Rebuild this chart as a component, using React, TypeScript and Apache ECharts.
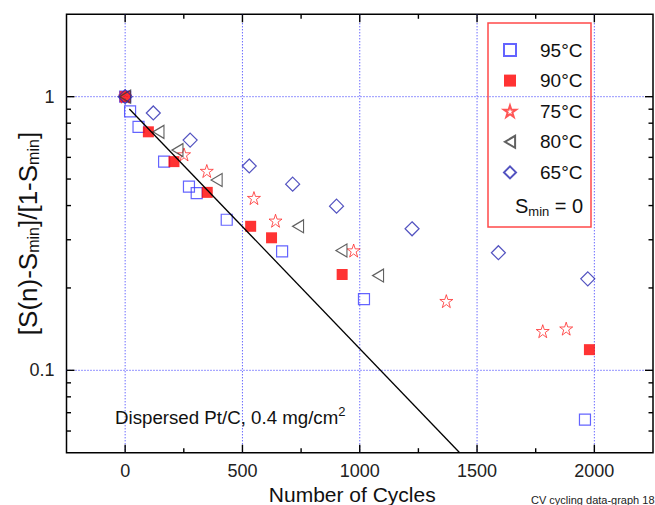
import React, { useEffect, useRef } from 'react';
import * as echarts from 'echarts';

const FONT = '"Liberation Sans", Arial, Helvetica, sans-serif';

// ---- data ----
const seriesNames = ['95°C', '90°C', '75°C', '80°C', '65°C'];

const cycles95 = [0, 21, 57, 166, 272, 305, 433, 669, 1018, 1960];
const s95 = [1.0, 0.884, 0.776, 0.579, 0.469, 0.444, 0.355, 0.272, 0.182, 0.066];

const cycles90 = [0, 99, 208, 350, 535, 624, 925, 1979];
const s90 = [1.0, 0.744, 0.579, 0.447, 0.336, 0.305, 0.224, 0.119];

const cycles75 = [0, 251, 348, 549, 641, 974, 1369, 1780, 1880];
const s75 = [1.0, 0.615, 0.535, 0.426, 0.352, 0.274, 0.179, 0.139, 0.142];

const cycles80 = [0, 142, 223, 390, 737, 922, 1078];
const s80 = [1.0, 0.744, 0.638, 0.496, 0.336, 0.274, 0.222];

const cycles65 = [0, 120, 277, 529, 714, 901, 1223, 1591, 1972];
const s65 = [1.0, 0.872, 0.694, 0.558, 0.479, 0.398, 0.329, 0.269, 0.216];

const fitCycles = [18, 1426];
const fitValues = [0.902, 0.05];

const xMajorTicks = [0, 500, 1000, 1500, 2000];
const xTickLabels = ['0', '500', '1000', '1500', '2000'];
const xMinorTicks = [250, 750, 1250, 1750];
const yMajorTicks = [0.1, 1];
const yTickLabels = ['0.1', '1'];
const yMinorTicks = [0.06, 0.07, 0.08, 0.09, 0.2, 0.3, 0.4, 0.5, 0.6, 0.7, 0.8, 0.9];

const X_MIN = -250;
const X_MAX = 2250;
const Y_MIN = 0.05;
const Y_MAX = 2;

const zip = (a: number[], b: number[]) => a.map((v, i) => [v, b[i]]);

const STAR = 'path://M50,0 L61.8,35.4 L100,35.4 L69.1,57.3 L80.9,95.1 L50,72.4 L19.1,95.1 L30.9,57.3 L0,35.4 L38.2,35.4 Z';
const LEFT_TRI = 'path://M0,50 L85,0 L85,100 Z';

const GRID_COLOR = '#2a2aff';
const FRAME = '#000';

export default function App() {
  const ref = useRef<HTMLDivElement>(null);
  useEffect(() => {
    if (!ref.current) return;
    const chart = echarts.init(ref.current, undefined, { renderer: 'svg' });

    const xDecor = xMajorTicks.map((v) => [v, 1, 1]).concat(xMinorTicks.map((v) => [v, 0, 1]));
    const yDecor = yMajorTicks.map((v) => [0, v, 1]).concat(yMinorTicks.map((v) => [0, v, 0]));

    const option: any = {
      animation: false,
      textStyle: { fontFamily: FONT },
      grid: {
        left: 66.5,
        right: 2,
        top: 14.3,
        bottom: 52.3,
        containLabel: false,
        outerBoundsMode: 'none',
        show: true,
        borderColor: FRAME,
        borderWidth: 1.5,
        backgroundColor: 'transparent',
      },
      xAxis: {
        type: 'value',
        min: X_MIN,
        max: X_MAX,
        interval: 250,
        axisLine: { show: false },
        axisTick: { show: false },
        splitLine: { show: false },
        axisLabel: {
          margin: 9,
          fontSize: 18,
          color: '#222',
          fontFamily: FONT,
          formatter: (v: number) => {
            const i = xMajorTicks.indexOf(v);
            return i >= 0 ? xTickLabels[i] : '';
          },
        },
        name: 'Number of Cycles',
        nameLocation: 'middle',
        nameGap: 31,
        nameMoveOverlap: false,
        nameTextStyle: { fontSize: 21, color: '#111', fontFamily: FONT, padding: [0, 15, 0, 0] },
      },
      yAxis: {
        type: 'log',
        logBase: 10,
        min: Y_MIN,
        max: Y_MAX,
        axisLine: { show: false },
        axisTick: { show: false },
        splitLine: { show: false },
        axisLabel: {
          margin: 12,
          fontSize: 18,
          color: '#222',
          fontFamily: FONT,
          formatter: (v: number) => {
            const i = yMajorTicks.findIndex((t) => Math.abs(t - v) < 1e-9);
            return i >= 0 ? yTickLabels[i] : '';
          },
        },
        name: '{m|[S(n)-S}{s|min}{m|]/[1-S}{s|min}{m|]}',
        nameLocation: 'middle',
        nameGap: 25,
        nameRotate: 90,
        nameMoveOverlap: false,
        nameTextStyle: {
          fontFamily: FONT,
          color: '#111',
          rich: {
            m: { fontSize: 26, lineHeight: 27, verticalAlign: 'top', fontFamily: FONT, color: '#111' },
            s: { fontSize: 16, lineHeight: 16, padding: [15, 0, 0, 0], verticalAlign: 'bottom', fontFamily: FONT, color: '#111' },
          },
        },
      },
      legend: {
        data: seriesNames,
        orient: 'vertical',
        left: 503,
        top: 40,
        padding: 0,
        itemWidth: 12,
        itemHeight: 12,
        itemGap: 10.6,
        selectedMode: false,
        textStyle: { fontSize: 19, fontFamily: FONT, color: '#111', lineHeight: 20, padding: [0, 0, 0, 19] },
      },
      graphic: [
        {
          type: 'rect',
          shape: { x: 488, y: 23, width: 103, height: 204 },
          style: { fill: 'none', stroke: '#ff4a4a', lineWidth: 1.5 },
          z: 10,
        },
        {
          type: 'text',
          x: 515,
          y: 196,
          style: {
            text: '{m|S}{s|min}{m| = 0}',
            rich: {
              m: { fontSize: 20, lineHeight: 22, verticalAlign: 'top', fontFamily: FONT, fill: '#111' },
              s: { fontSize: 13, lineHeight: 13, padding: [12, 0, 0, 0], verticalAlign: 'bottom', fontFamily: FONT, fill: '#111' },
            },
          },
          z: 10,
        },
        {
          type: 'text',
          x: 115,
          y: 405,
          style: {
            text: '{m|Dispersed Pt/C, 0.4 mg/cm}{p|2}',
            rich: {
              m: { fontSize: 18.7, lineHeight: 22, verticalAlign: 'bottom', fontFamily: FONT, fill: '#111' },
              p: { fontSize: 13, lineHeight: 13, verticalAlign: 'top', fontFamily: FONT, fill: '#111' },
            },
          },
          z: 10,
        },
        {
          type: 'text',
          x: 531,
          y: 494,
          style: { text: 'CV cycling data-graph 18', fontSize: 11, fontFamily: FONT, fill: '#222' },
          z: 10,
        },
      ],
      series: [
        {
          type: 'custom',
          silent: true,
          z: 1,
          encode: { x: 0, y: 2 },
          data: xDecor,
          renderItem: (params: any, api: any) => {
            const v = api.value(0);
            const major = api.value(1) === 1;
            const bottom = api.coord([v, Y_MIN]);
            const top = api.coord([v, Y_MAX]);
            const len = major ? 8 : 4.5;
            const children: any[] = [];
            if (major) {
              children.push({
                type: 'line',
                shape: { x1: bottom[0], y1: top[1], x2: bottom[0], y2: bottom[1] },
                style: { stroke: GRID_COLOR, lineWidth: 1, lineDash: [1, 2] },
              });
            }
            children.push({
              type: 'line',
              shape: { x1: bottom[0], y1: bottom[1], x2: bottom[0], y2: bottom[1] - len },
              style: { stroke: FRAME, lineWidth: 1.4 },
            });
            children.push({
              type: 'line',
              shape: { x1: top[0], y1: top[1], x2: top[0], y2: top[1] + len },
              style: { stroke: FRAME, lineWidth: 1.4 },
            });
            return { type: 'group', children };
          },
        },
        {
          type: 'custom',
          silent: true,
          z: 1,
          encode: { x: 0, y: 1 },
          data: yDecor,
          renderItem: (params: any, api: any) => {
            const v = api.value(1);
            const major = api.value(2) === 1;
            const left = api.coord([X_MIN, v]);
            const right = api.coord([X_MAX, v]);
            const len = major ? 8 : 4.5;
            const children: any[] = [];
            if (major) {
              children.push({
                type: 'line',
                shape: { x1: left[0], y1: left[1], x2: right[0], y2: right[1] },
                style: { stroke: GRID_COLOR, lineWidth: 1, lineDash: [1, 2] },
              });
            }
            children.push({
              type: 'line',
              shape: { x1: left[0], y1: left[1], x2: left[0] + len, y2: left[1] },
              style: { stroke: FRAME, lineWidth: 1.4 },
            });
            children.push({
              type: 'line',
              shape: { x1: right[0], y1: right[1], x2: right[0] - len, y2: right[1] },
              style: { stroke: FRAME, lineWidth: 1.4 },
            });
            return { type: 'group', children };
          },
        },
        {
          name: seriesNames[0],
          type: 'scatter',
          z: 3,
          data: zip(cycles95, s95),
          symbol: 'rect',
          symbolSize: 11,
          itemStyle: { color: 'rgba(255,255,255,0)', borderColor: '#3d3dff', borderWidth: 1.2 },
        },
        {
          name: seriesNames[1],
          type: 'scatter',
          z: 3,
          data: zip(cycles90, s90),
          symbol: 'rect',
          symbolSize: 11,
          itemStyle: { color: '#ff0000', borderColor: '#ff0000', borderWidth: 0 },
        },
        {
          name: seriesNames[2],
          type: 'scatter',
          z: 3,
          data: zip(cycles75, s75),
          symbol: STAR,
          symbolSize: 13,
          itemStyle: { color: 'rgba(255,255,255,0)', borderColor: '#ff2a2a', borderWidth: 1 },
        },
        {
          name: seriesNames[3],
          type: 'scatter',
          z: 3,
          data: zip(cycles80, s80),
          symbol: LEFT_TRI,
          symbolSize: [11, 13],
          itemStyle: { color: 'rgba(255,255,255,0)', borderColor: '#3a3a3a', borderWidth: 1.2 },
        },
        {
          name: seriesNames[4],
          type: 'scatter',
          z: 3,
          data: zip(cycles65, s65),
          symbol: 'diamond',
          symbolSize: 14,
          itemStyle: { color: 'rgba(255,255,255,0)', borderColor: '#2727b0', borderWidth: 1.2 },
        },
        {
          type: 'line',
          z: 4,
          silent: true,
          data: zip(fitCycles, fitValues),
          symbol: 'none',
          lineStyle: { color: '#000', width: 1.3 },
        },
      ],
    };
    chart.setOption(option);
    return () => chart.dispose();
  }, []);
  return (
    <div
      ref={ref}
      style={{ position: 'absolute', left: 0, top: 0, width: '655px', height: '505px', background: '#fff' }}
    />
  );
}
